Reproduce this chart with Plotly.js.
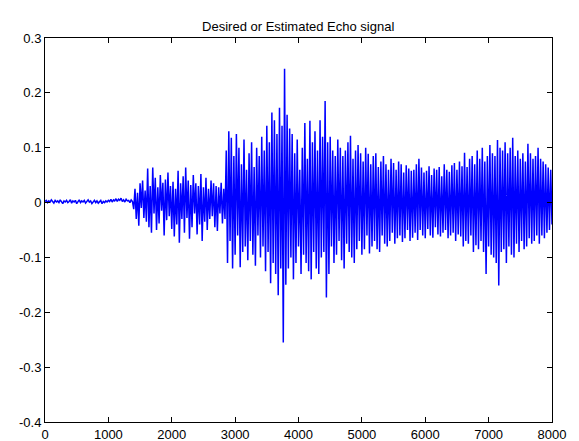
<!DOCTYPE html>
<html>
<head>
<meta charset="utf-8">
<script src="https://cdn.plot.ly/plotly-3.0.1.min.js"></script>
<style>html,body{margin:0;padding:0;background:#fff;}#chart{width:579px;height:441px;}</style>
</head>
<body>
<div id="chart"></div>
<script>
// Sample index layout of the two read-off segments
const quietStart = 0, quietStep = 20;
const activeStart = 1400, activeStep = 20;

// Quiet lead-in (samples 0..1380)
const quietValues = [
0.002,0.004,0.000,0.003,0.001,0.005,0.002,-0.001,0.004,0.001,
0.003,0.000,0.005,0.002,-0.002,0.003,0.001,0.004,0.000,0.002,
0.005,-0.001,0.003,0.001,0.004,-0.002,0.002,0.005,0.000,0.003,
0.001,0.004,-0.001,0.002,0.005,0.001,0.003,-0.002,0.002,0.004,
0.000,0.003,-0.001,0.001,0.004,-0.002,0.002,0.000,0.003,0.001,
0.004,0.002,0.006,0.001,0.005,0.003,0.007,0.002,0.006,0.004,
0.008,0.002,0.005,0.001,0.006,0.003,0.004,0.000,0.005,0.002
];

// Active echo (samples 1400..8000)
const activeValues = [
-0.012,0.025,-0.030,0.018,-0.042,0.035,-0.010,0.040,-0.028,0.022,
-0.035,0.062,-0.045,0.030,-0.055,0.064,-0.020,0.045,-0.050,0.028,
-0.038,0.050,-0.015,0.036,-0.060,0.042,-0.032,0.055,-0.025,0.030,
-0.048,0.038,-0.062,0.025,-0.040,0.058,-0.073,0.035,-0.030,0.048,
-0.055,0.064,-0.028,0.040,-0.066,0.032,-0.045,0.050,-0.020,0.035,
-0.058,0.030,-0.040,0.052,-0.070,0.028,-0.035,0.045,-0.050,0.025,
-0.030,0.040,-0.025,0.035,-0.045,0.030,-0.052,0.028,-0.020,0.036,
-0.038,0.025,-0.030,
0.095,-0.110,0.130,-0.070,0.118,-0.120,0.085,
-0.095,0.125,-0.060,0.100,-0.118,0.070,-0.090,0.115,-0.080,0.060,
-0.105,0.090,-0.070,0.110,-0.095,0.065,-0.115,0.100,-0.060,0.085,
-0.100,0.120,-0.080,0.095,-0.125,0.140,-0.090,0.110,-0.147,0.164,
-0.110,0.150,-0.130,0.125,-0.169,0.173,-0.120,0.140,-0.255,0.244,
-0.150,0.160,-0.120,0.135,-0.100,0.125,-0.140,0.090,-0.110,0.115,
-0.080,0.060,-0.130,0.100,-0.095,0.145,-0.110,0.080,-0.125,0.149,
-0.140,0.110,-0.090,0.130,-0.120,0.095,-0.130,0.150,-0.100,0.120,
-0.090,0.185,-0.173,0.110,-0.130,0.120,-0.080,0.095,-0.110,0.085,
-0.095,0.115,-0.070,0.100,-0.105,0.085,-0.120,0.095,-0.075,0.110,
-0.090,0.122,-0.100,0.080,-0.110,0.095,-0.085,0.105,-0.070,0.090,
-0.095,0.075,-0.085,0.100,-0.060,0.089,-0.093,0.070,-0.080,0.085,
-0.070,0.090,-0.085,0.065,-0.090,0.075,-0.060,0.085,-0.075,0.070,
-0.080,0.060,-0.070,0.080,-0.055,0.072,-0.075,0.060,-0.065,0.075,
-0.060,0.070,-0.072,0.055,-0.065,0.068,-0.050,0.062,-0.070,0.058,
-0.064,0.060,-0.055,0.070,-0.068,0.080,-0.050,0.064,-0.060,0.055,
-0.065,0.058,-0.048,0.066,-0.060,0.050,-0.064,0.062,-0.045,0.060,
-0.058,0.065,-0.062,0.048,-0.055,0.070,-0.050,0.060,-0.065,0.056,
-0.060,0.068,-0.055,0.072,-0.070,0.060,-0.058,0.075,-0.062,0.066,
-0.080,0.091,-0.070,0.065,-0.075,0.080,-0.060,0.085,-0.090,0.070,
-0.078,0.095,-0.085,0.080,-0.070,0.100,-0.090,0.075,-0.130,0.085,
-0.080,0.105,-0.095,0.090,-0.100,0.085,-0.110,0.114,-0.151,0.100,
-0.090,0.095,-0.085,0.110,-0.110,0.090,-0.080,0.100,-0.095,0.118,
-0.100,0.085,-0.075,0.095,-0.090,0.080,-0.070,0.090,-0.085,0.075,
-0.080,0.107,-0.065,0.090,-0.075,0.080,-0.070,0.085,-0.060,0.100,
-0.075,0.080,-0.060,0.075,-0.065,0.070,-0.055,0.064,-0.050,0.060,
-0.040
];

const xTickVals = [0,1000,2000,3000,4000,5000,6000,7000,8000];
const xTickText = ["0","1000","2000","3000","4000","5000","6000","7000","8000"];
const yTickVals = [-0.4,-0.3,-0.2,-0.1,0,0.1,0.2,0.3];
const yTickText = ["-0.4","-0.3","-0.2","-0.1","0","0.1","0.2","0.3"];
const chartTitle = "Desired or Estimated Echo signal";

const xs = [], ys = [];
quietValues.forEach((v, i) => { xs.push(quietStart + i * quietStep); ys.push(v); });
activeValues.forEach((v, i) => { xs.push(activeStart + i * activeStep); ys.push(v); });

const font = {family: "Liberation Sans, Arial, sans-serif", size: 13, color: "#000"};
const axisCommon = {
  showgrid: false, zeroline: false, showline: true, mirror: "ticks",
  linecolor: "#000", linewidth: 1, ticks: "inside", ticklen: 5, tickwidth: 1,
  tickcolor: "#000", tickfont: font, tickmode: "array"
};

Plotly.newPlot("chart", [{
  x: xs, y: ys, type: "scatter", mode: "lines",
  line: {color: "#0000ff", width: 1.5}, hoverinfo: "skip"
}], {
  width: 579, height: 441,
  margin: {l: 45, r: 27, t: 38, b: 19, pad: 0},
  paper_bgcolor: "#fff", plot_bgcolor: "#fff",
  showlegend: false,
  title: {text: chartTitle, font: font, x: 0.515, xanchor: "center", y: 1 - 26/441, yanchor: "middle", yref: "container"},
  xaxis: Object.assign({}, axisCommon, {range: [0, 8000], tickvals: xTickVals, ticktext: xTickText}),
  yaxis: Object.assign({}, axisCommon, {range: [-0.4, 0.3], tickvals: yTickVals, ticktext: yTickText})
}, {staticPlot: true, displayModeBar: false});
</script>
</body>
</html>
